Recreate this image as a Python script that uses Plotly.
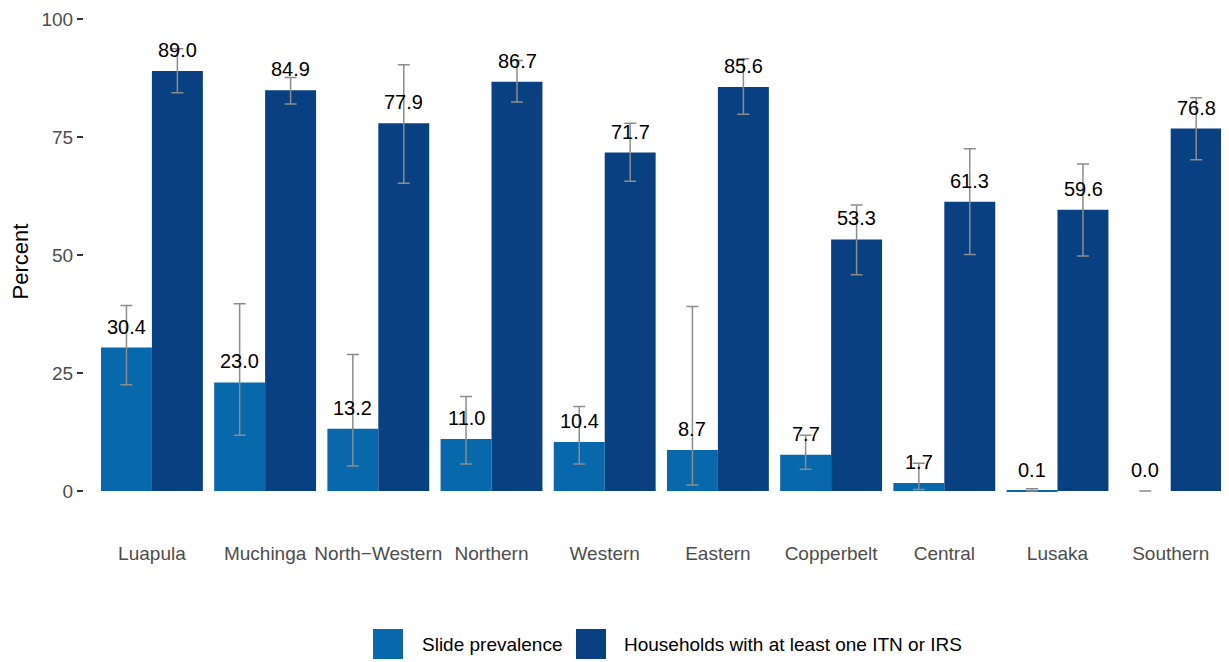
import plotly.graph_objects as go

# ── Data ──────────────────────────────────────────────────────────────────
REGIONS = ["Luapula", "Muchinga", "North\u2212Western", "Northern", "Western",
           "Eastern", "Copperbelt", "Central", "Lusaka", "Southern"]

SLIDE = [30.4, 23.0, 13.2, 11.0, 10.4, 8.7, 7.7, 1.7, 0.1, 0.0]
SLIDE_LO = [22.5, 11.8, 5.3, 5.7, 5.7, 1.3, 4.6, 0.3, 0.0, 0.0]
SLIDE_HI = [39.3, 39.7, 28.9, 20.0, 17.9, 39.1, 11.8, 5.9, 0.5, 0.0]

ITN = [89.0, 84.9, 77.9, 86.7, 71.7, 85.6, 53.3, 61.3, 59.6, 76.8]
ITN_LO = [84.4, 82.0, 65.2, 82.4, 65.6, 79.8, 45.8, 50.1, 49.8, 70.2]
ITN_HI = [93.7, 87.6, 90.3, 91.2, 77.9, 91.6, 60.6, 72.5, 69.3, 83.3]

Y_TICKS = [0, 25, 50, 75, 100]

# ── Style ─────────────────────────────────────────────────────────────────
SLIDE_COLOR = "#0868ac"
ITN_COLOR = "#084081"
ERR_COLOR = "#8c8c8c"
FONT = "Liberation Sans, Arial, sans-serif"
BAR_PX = 25.5  # half the dodge offset in pixels, for label placement

# page body adds an 8px margin, so the figure is sized 8px smaller
W, H = 1221, 654
M_L, M_B = 76, 147
PLOT_W, PLOT_H = W - M_L, H - M_B


def px_x(x):
    """figure pixel -> paper x"""
    return (x - M_L) / PLOT_W


def px_y(y):
    """figure pixel -> paper y"""
    return (PLOT_H - y) / PLOT_H


def err(vals, lo, hi):
    return dict(
        type="data",
        symmetric=False,
        array=[h - v for v, h in zip(vals, hi)],
        arrayminus=[v - l for v, l in zip(vals, lo)],
        color=ERR_COLOR,
        thickness=1.5,
        width=6,
    )


fig = go.Figure()
fig.add_trace(go.Bar(
    x=REGIONS, y=SLIDE, name="Slide prevalence",
    marker=dict(color=SLIDE_COLOR, line=dict(width=0)),
    error_y=err(SLIDE, SLIDE_LO, SLIDE_HI),
))
fig.add_trace(go.Bar(
    x=REGIONS, y=ITN, name="Households with at least one ITN or IRS",
    marker=dict(color=ITN_COLOR, line=dict(width=0)),
    error_y=err(ITN, ITN_LO, ITN_HI),
))

# value labels above each bar
for vals, shift in ((SLIDE, -BAR_PX), (ITN, BAR_PX)):
    for r, v in zip(REGIONS, vals):
        fig.add_annotation(
            x=r, y=v, text=f"{v:.1f}", showarrow=False,
            xshift=shift, yshift=21, yanchor="middle",
            font=dict(size=20, color="black", family=FONT),
        )

# ggplot-style legend with large keys (plotly caps its own symbol size)
for tr, key_x, text_x in ((fig.data[0], 365, 412), (fig.data[1], 568, 614)):
    fig.add_shape(
        type="rect", xref="paper", yref="paper",
        x0=px_x(key_x), x1=px_x(key_x + 30),
        y0=px_y(621), y1=px_y(651),
        fillcolor=tr.marker.color, line=dict(width=0),
    )
    fig.add_annotation(
        xref="paper", yref="paper", x=px_x(text_x), y=px_y(636),
        xanchor="left", yanchor="middle", text=tr.name, showarrow=False,
        font=dict(size=19, color="black", family=FONT),
    )

fig.update_layout(
    width=W, height=H,
    margin=dict(l=M_L, r=0, t=0, b=M_B, autoexpand=False),
    paper_bgcolor="white", plot_bgcolor="white",
    barmode="group", bargap=0.1, bargroupgap=0,
    font=dict(family=FONT),
    showlegend=False,
    xaxis=dict(
        range=[-0.6, 9.515], showgrid=False, zeroline=False, showline=False,
        ticks="", ticklabelstandoff=25, automargin=False,
        tickfont=dict(size=19, color="#4d4d4d", family=FONT),
    ),
    yaxis=dict(
        range=[-5.08, 102.33], tickvals=Y_TICKS, showgrid=False, zeroline=False,
        showline=False, ticks="outside", ticklen=6, tickwidth=2,
        tickcolor="#333333", automargin=False, ticklabeloverflow="allow",
        tickfont=dict(size=19, color="#4d4d4d", family=FONT),
        title=dict(text="Percent", font=dict(size=22, color="black", family=FONT),
                   standoff=12),
    ),
)

fig.write_html("out.html")
